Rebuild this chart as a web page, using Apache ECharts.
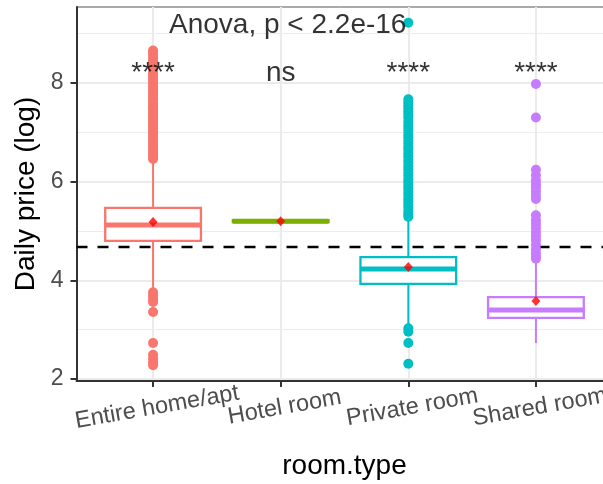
<!DOCTYPE html>
<html><head><meta charset="utf-8">
<script src="https://cdn.jsdelivr.net/npm/echarts@6/dist/echarts.min.js"></script>
<style>html,body{margin:0;padding:0;background:#fff}#c{width:603px;height:484px}</style>
</head><body><div id="c"></div>
<script>
// ---- data ----
const categories = ['Entire home/apt', 'Hotel room', 'Private room', 'Shared room'];
const boxColors = ['#F8766D', '#7CAE00', '#00BFC4', '#C77CFF'];
const whiskerLow = [3.85, 5.20, 3.07, 2.73];
const boxQ1 = [4.80, 5.18, 3.93, 3.24];
const boxMedian = [5.12, 5.20, 4.23, 3.40];
const boxQ3 = [5.47, 5.22, 4.47, 3.66];
const whiskerHigh = [6.44, 5.20, 5.28, 4.42];
const groupMeans = [5.18, 5.20, 4.27, 3.58];
const refLineY = 4.68;
const entireOutliers = [8.66, 8.61, 8.55, 8.49, 8.44, 8.38, 8.33, 8.27, 8.21, 8.15, 8.10, 8.04, 7.98, 7.92, 7.86, 7.81, 7.75, 7.69, 7.64, 7.58, 7.52, 7.47, 7.41, 7.36, 7.30, 7.24, 7.19, 7.13, 7.07, 7.02, 6.96, 6.90, 6.85, 6.79, 6.73, 6.68, 6.62, 6.57, 6.51, 6.46,
  3.76, 3.69, 3.62, 3.56, 3.36, 2.73, 2.49, 2.41, 2.34, 2.28];
const hotelOutliers = [];
const privateOutliers = [9.22, 7.67, 7.61, 7.55, 7.49, 7.42, 7.36, 7.30, 7.22, 7.15, 7.09, 7.03, 6.96, 6.90, 6.83, 6.77, 6.70, 6.64, 6.57, 6.51, 6.44, 6.38, 6.31, 6.25, 6.18, 6.12, 6.05, 5.99, 5.92, 5.86, 5.79, 5.73, 5.66, 5.60, 5.53, 5.47, 5.40, 5.34, 5.29,
  3.03, 2.96, 2.73, 2.31];
const sharedOutliers = [7.98, 7.30, 6.24, 6.13, 6.03, 5.95, 5.88, 5.80, 5.72, 5.65, 5.32, 5.22, 5.14, 5.06, 4.98, 4.90, 4.82, 4.72, 4.63, 4.55, 4.48, 4.44];
const yTickValues = [2, 4, 6, 8];
const yMinorValues = [3, 5, 7, 9];
const sigLabels = ['****', 'ns', '****', '****'];
const sigLabelY = 8.2;
const anovaLabel = 'Anova, p < 2.2e-16';
const anovaPos = [1.125, 9.16];

// ---- build ----
const FONT = '"Liberation Sans", Arial, sans-serif';
const xPos = categories.map((c, i) => i + 1);
const outlierGroups = [entireOutliers, hotelOutliers, privateOutliers, sharedOutliers];
const outlierData = [];
outlierGroups.forEach((arr, i) => arr.forEach(v => outlierData.push([i + 1, v])));
const boxData = categories.map((c, i) => [i + 1, whiskerLow[i], boxQ1[i], boxMedian[i], boxQ3[i], whiskerHigh[i]]);

const gridLines = [];
yMinorValues.forEach(v => gridLines.push({ yAxis: v, lineStyle: { color: '#ededed', width: 1.2, type: 'solid' } }));
yTickValues.forEach(v => gridLines.push({ yAxis: v, lineStyle: { color: '#ebebeb', width: 2, type: 'solid' } }));
xPos.forEach(v => gridLines.push({ xAxis: v, lineStyle: { color: '#ebebeb', width: 2, type: 'solid' } }));

// panel geometry: discrete scale expanded by 0.6 on each side
const PANEL_LEFT = 76.5, PANEL_TOP = 7, PANEL_W = 536, PANEL_H = 374;
const unit = PANEL_W / 4.2;

const chart = echarts.init(document.getElementById('c'), null, { renderer: 'canvas' });
chart.setOption({
  animation: false,
  backgroundColor: '#fff',
  grid: [
    { left: PANEL_LEFT, top: PANEL_TOP, width: PANEL_W, height: PANEL_H, show: true, borderColor: '#555', borderWidth: 1, outerBoundsMode: 'none', containLabel: false },
    { left: PANEL_LEFT + 0.1 * unit, top: PANEL_TOP, width: 4 * unit, height: PANEL_H, show: false, outerBoundsMode: 'none', containLabel: false }
  ],
  xAxis: [
    {
      type: 'value', gridIndex: 0, min: 0.4, max: 4.6,
      axisLine: { show: true, onZero: false, lineStyle: { color: '#333', width: 2 } },
      axisTick: { show: false },
      axisLabel: { show: false },
      splitLine: { show: false },
      name: 'room.type', nameLocation: 'middle', nameGap: 71,
      nameTextStyle: { fontSize: 28, color: '#000', fontFamily: FONT }
    },
    {
      type: 'category', gridIndex: 1, data: categories, boundaryGap: true,
      axisLine: { show: false },
      axisTick: { show: true, alignWithLabel: true, interval: 0, length: 6, lineStyle: { color: '#333', width: 2 } },
      axisLabel: { interval: 0, rotate: 10, align: 'center', verticalAlign: 'middle', margin: 27, fontSize: 23.5, color: '#4d4d4d', fontFamily: FONT, padding: [0, 0, 0, 8], hideOverlap: false },
      splitLine: { show: false }
    }
  ],
  yAxis: [
    {
      type: 'value', gridIndex: 0, min: 1.96, max: 9.54,
      axisLine: { show: true, onZero: false, lineStyle: { color: '#333', width: 2 } },
      axisTick: { show: true, customValues: yTickValues, length: 6, lineStyle: { color: '#333', width: 2 } },
      axisLabel: { customValues: yTickValues, margin: 13, fontSize: 23, color: '#4d4d4d', fontFamily: FONT, showMinLabel: true, showMaxLabel: true },
      splitLine: { show: false },
      name: 'Daily price (log)', nameLocation: 'middle', nameGap: 33,
      nameTextStyle: { fontSize: 28, color: '#000', fontFamily: FONT }
    },
    { type: 'value', gridIndex: 1, min: 1.96, max: 9.54, show: false }
  ],
  series: [
    {
      type: 'scatter', data: [], z: 0, silent: true,
      markLine: { z: 0, silent: true, symbol: ['none', 'none'], label: { show: false }, animation: false, data: gridLines }
    },
    {
      type: 'scatter', data: [], z: 1, silent: true,
      markLine: { z: 1, silent: true, symbol: ['none', 'none'], label: { show: false }, animation: false,
        data: [{ yAxis: refLineY, lineStyle: { color: '#000', width: 2.3, type: [11, 10] } }] }
    },
    {
      type: 'custom', z: 2, data: boxData,
      renderItem: function (params, api) {
        const x = api.value(0);
        const color = boxColors[params.dataIndex];
        const pLow = api.coord([x, api.value(1)]);
        const pQ1 = api.coord([x, api.value(2)]);
        const pMed = api.coord([x, api.value(3)]);
        const pQ3 = api.coord([x, api.value(4)]);
        const pHigh = api.coord([x, api.value(5)]);
        const hw = api.size([0.75, 0])[0] / 2;
        return {
          type: 'group',
          children: [
            { type: 'line', shape: { x1: pLow[0], y1: pLow[1], x2: pQ1[0], y2: pQ1[1] }, style: { stroke: color, lineWidth: 2 } },
            { type: 'line', shape: { x1: pQ3[0], y1: pQ3[1], x2: pHigh[0], y2: pHigh[1] }, style: { stroke: color, lineWidth: 2 } },
            { type: 'rect', shape: { x: pQ3[0] - hw, y: pQ3[1], width: 2 * hw, height: pQ1[1] - pQ3[1] }, style: { fill: '#fff', stroke: color, lineWidth: 2.3 } },
            { type: 'line', shape: { x1: pMed[0] - hw, y1: pMed[1], x2: pMed[0] + hw, y2: pMed[1] }, style: { stroke: color, lineWidth: 5 } }
          ]
        };
      }
    },
    {
      type: 'scatter', z: 3, data: outlierData, symbol: 'circle', symbolSize: 10,
      itemStyle: { color: p => boxColors[p.value[0] - 1], opacity: 1 }
    },
    {
      type: 'scatter', z: 4, data: xPos.map((x, i) => [x, groupMeans[i]]), symbol: 'diamond', symbolSize: [9, 10],
      itemStyle: { color: '#FF0000' }
    },
    {
      type: 'scatter', z: 5, data: xPos.map(x => [x, sigLabelY]), symbolSize: 0, silent: true,
      label: { show: true, position: 'inside', formatter: p => sigLabels[p.dataIndex], fontSize: 28, color: '#000', fontFamily: FONT, align: 'center', verticalAlign: 'middle' }
    },
    {
      type: 'scatter', z: 6, data: [anovaPos], symbolSize: 0, silent: true,
      label: { show: true, position: 'inside', formatter: anovaLabel, fontSize: 28, color: '#000', fontFamily: FONT, align: 'left', verticalAlign: 'middle' }
    }
  ]
});
</script>
</body></html>
